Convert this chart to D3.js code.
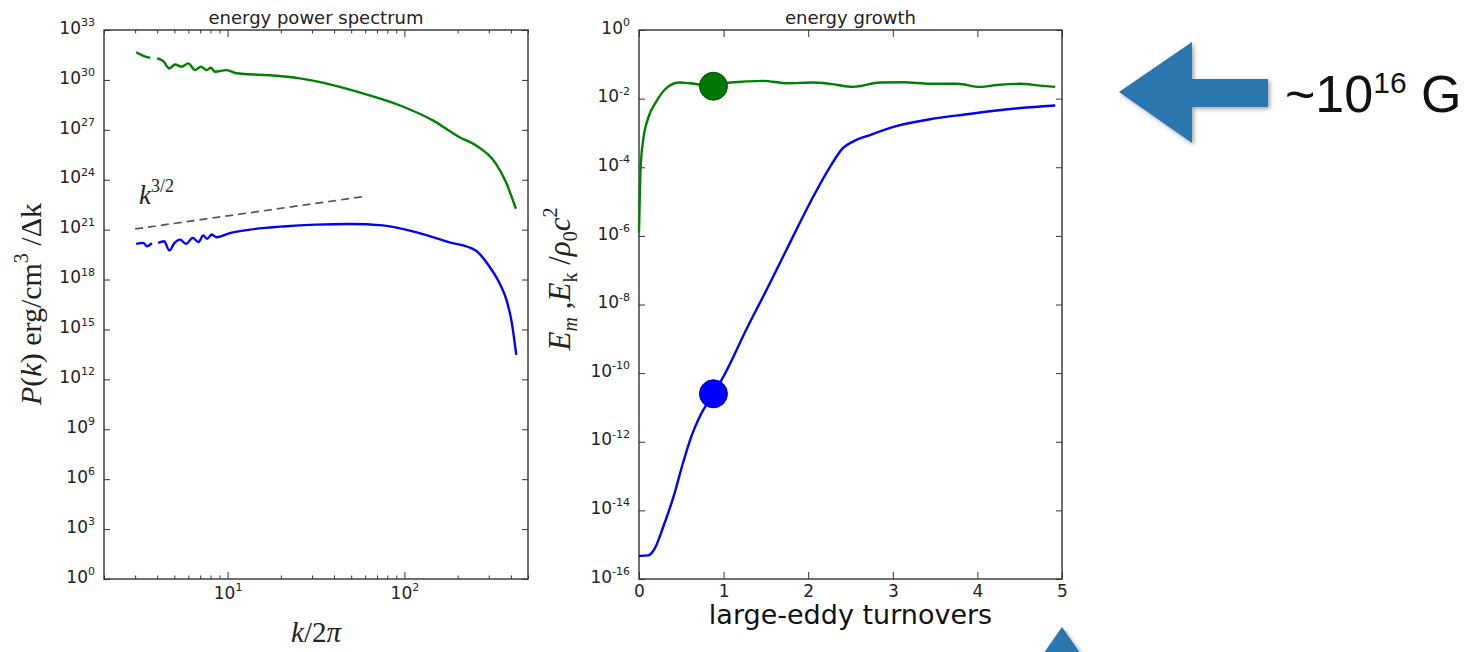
<!DOCTYPE html>
<meta charset="utf-8">
<title>energy spectrum and growth</title>
<style>
body { margin: 0; background: #fff; }
svg { display: block; }
.tick text { font-family: "DejaVu Sans", sans-serif; fill: #222; }
.title { font-family: "DejaVu Sans", sans-serif; font-size: 18px; fill: #222; }
.math { font-family: "Liberation Serif", serif; fill: #222; }
</style>
<body>
<script src="https://d3js.org/d3.v7.min.js"></script>
<script>

// ---- data ----
// left panel: power spectrum vs k/2pi (null = gap in the line)
var specKGreen = [3.04, 3.34, 3.65, 3.82, 4.0, 4.33, 4.69, 5.05, 5.5, 6.0, 6.55, 7.07, 7.6, 8.05, 8.48, 9.87, 11.2, 16.6, 25.6, 39.4, 60.8, 93.7, 144, 204, 253, 329, 375, 427];
var specGreen  = [4.6e31, 2.8e31, 2.1e31, null, 2.0e31, 1.35e31, 4.9e30, 8.5e30, 6.2e30, 9.8e30, 3.9e30, 6.2e30, 3.9e30, 5.4e30, 3.1e30, 3.9e30, 2.5e30, 1.95e30, 1.23e30, 4.9e29, 1.35e29, 3.0e28, 3.8e27, 3.7e26, 1.17e26, 9.3e24, 7.2e23, 1.8e22];
var specKBlue  = [3.04, 3.34, 3.5, 3.73, 3.9, 4.05, 4.37, 4.69, 5.0, 5.38, 5.82, 6.35, 6.85, 7.28, 7.67, 8.12, 8.66, 10.3, 13.4, 20.6, 31.7, 48.9, 75.4, 116, 178, 253, 300, 343, 379, 403, 429];
var specBlue   = [1.4e20, 1.6e20, 1.0e20, 1.55e20, null, 1.6e20, 2.0e20, 5.6e19, 1.55e20, 2.5e20, 1.4e20, 3.2e20, 1.8e20, 4.5e20, 2.8e20, 5.1e20, 3.5e20, 6.2e20, 1.0e21, 1.55e21, 2.0e21, 2.2e21, 1.8e21, 7.1e20, 1.8e20, 5.6e19, 6.9e18, 6.9e17, 5.4e16, 3.4e15, 3.0e13];
// k^(3/2) guide line end points
var guideK = [3, 60];
var guideP = [1.1e21, 1.0e23];

// right panel: energy growth vs large-eddy turnovers
var tGreen = [0, 0.02, 0.05, 0.11, 0.2, 0.33, 0.48, 0.6, 0.75, 0.88, 1.08, 1.47, 1.75, 2.06, 2.26, 2.53, 2.85, 3.13, 3.44, 3.76, 4.03, 4.23, 4.5, 4.74, 4.92];
var eGreen = [1.26e-6, 1.05e-4, 6.3e-4, 2.8e-3, 7.9e-3, 2.1e-2, 2.95e-2, 2.8e-2, 2.5e-2, 2.3e-2, 2.95e-2, 3.3e-2, 2.8e-2, 2.95e-2, 2.7e-2, 2.2e-2, 2.95e-2, 3.0e-2, 2.7e-2, 2.7e-2, 2.2e-2, 2.5e-2, 2.7e-2, 2.4e-2, 2.2e-2];
var tBlue = [0, 0.11, 0.19, 0.29, 0.41, 0.52, 0.62, 0.72, 0.88, 1.0, 1.27, 1.55, 1.82, 2.06, 2.26, 2.41, 2.53, 2.73, 3.05, 3.44, 3.83, 4.23, 4.62, 4.92];
var eBlue = [4.7e-16, 4.9e-16, 8.1e-16, 3.5e-15, 2.6e-14, 2.4e-13, 1.45e-12, 5.5e-12, 2.5e-11, 8.1e-11, 1.9e-9, 4.3e-8, 9.5e-7, 1.4e-5, 1.05e-4, 3.6e-4, 5.6e-4, 8.7e-4, 1.6e-3, 2.5e-3, 3.4e-3, 4.5e-3, 5.6e-3, 6.3e-3];
// highlighted moment
var markT = 0.88;
var markGreen = 2.3e-2, markBlue = 2.5e-11;

var leftYTicks = [1e0, 1e3, 1e6, 1e9, 1e12, 1e15, 1e18, 1e21, 1e24, 1e27, 1e30, 1e33];
var leftXMajor = [10, 100];
var leftXMinor = [2, 3, 4, 5, 6, 7, 8, 9, 20, 30, 40, 50, 60, 70, 80, 90, 200, 300, 400, 500];
var rightYTicks = [1e-16, 1e-14, 1e-12, 1e-10, 1e-8, 1e-6, 1e-4, 1e-2, 1e0];
var rightXTicks = [0, 1, 2, 3, 4, 5];

var width = 1478, height = 652;
var GREEN = "#008000", BLUE = "#0000ff", ARROW = "#2a76ae";

var svg = d3.select("body").append("svg")
    .attr("width", width)
    .attr("height", height);

svg.append("rect").attr("width", width).attr("height", height).attr("fill", "#fff");

// drop shadow for the big arrows
var defs = svg.append("defs");
defs.append("filter").attr("id", "shadow")
    .attr("x", "-20%").attr("y", "-20%").attr("width", "140%").attr("height", "140%")
  .append("feDropShadow")
    .attr("dx", 2).attr("dy", 2).attr("stdDeviation", 2)
    .attr("flood-color", "#000").attr("flood-opacity", 0.35);

// 10^n tick label
function powLabel(sel, exp, big, small) {
  sel.text(null);
  sel.append("tspan").attr("font-size", big).text("10");
  sel.append("tspan").attr("font-size", small).attr("dy", -big * 0.45).text(exp);
}

// ---------------- left panel ----------------
var L = {x0: 104, x1: 528, y0: 30, y1: 579};
var xL = d3.scaleLog().domain([2, 500]).range([L.x0, L.x1]);
var yL = d3.scaleLog().domain([1, 1e33]).range([L.y1, L.y0]);

var gL = svg.append("g");

// ticks (inward, mirrored)
gL.append("g").attr("transform", "translate(0," + L.y1 + ")")
    .call(d3.axisBottom(xL).tickValues(leftXMinor).tickSize(-3.5).tickFormat(""));
gL.append("g").attr("transform", "translate(0," + L.y0 + ")")
    .call(d3.axisTop(xL).tickValues(leftXMinor).tickSize(-3.5).tickFormat(""));
gL.append("g").attr("transform", "translate(0," + L.y1 + ")")
    .call(d3.axisBottom(xL).tickValues(leftXMajor).tickSize(-7).tickPadding(13).tickFormat(d => d))
    .selectAll(".tick text").each(function(d) {
      powLabel(d3.select(this), Math.round(Math.log10(d)), 17, 11);
    });
gL.append("g").attr("transform", "translate(0," + L.y0 + ")")
    .call(d3.axisTop(xL).tickValues(leftXMajor).tickSize(-7).tickFormat(""));
gL.append("g").attr("transform", "translate(" + L.x0 + ",0)")
    .call(d3.axisLeft(yL).tickValues(leftYTicks).tickSize(-6).tickPadding(9).tickFormat(d => d))
    .selectAll(".tick text").each(function(d) {
      powLabel(d3.select(this), Math.round(Math.log10(d)), 17, 11);
    });
gL.append("g").attr("transform", "translate(" + L.x1 + ",0)")
    .call(d3.axisRight(yL).tickValues(leftYTicks).tickSize(-6).tickFormat(""));

gL.selectAll(".domain").remove();
gL.selectAll(".tick line").attr("stroke", "#333").attr("stroke-width", 1);

gL.append("rect")
    .attr("x", L.x0).attr("y", L.y0)
    .attr("width", L.x1 - L.x0).attr("height", L.y1 - L.y0)
    .attr("fill", "none").attr("stroke", "#333").attr("stroke-width", 1.4);

var lineL = d3.line()
    .defined(d => d[1] != null)
    .x(d => xL(d[0])).y(d => yL(d[1]))
    .curve(d3.curveMonotoneX);

gL.append("path")
    .datum(d3.zip(guideK, guideP))
    .attr("d", lineL)
    .attr("fill", "none").attr("stroke", "#555").attr("stroke-width", 1.7)
    .attr("stroke-dasharray", "8,5");

gL.append("path")
    .datum(d3.zip(specKGreen, specGreen))
    .attr("d", lineL)
    .attr("fill", "none").attr("stroke", GREEN).attr("stroke-width", 2.4);

gL.append("path")
    .datum(d3.zip(specKBlue, specBlue))
    .attr("d", lineL)
    .attr("fill", "none").attr("stroke", BLUE).attr("stroke-width", 2.4);

// k^{3/2}
var kl = gL.append("text").attr("class", "math").attr("x", 139).attr("y", 204);
kl.append("tspan").attr("font-size", 27).attr("font-style", "italic").text("k");
kl.append("tspan").attr("font-size", 18).attr("dy", -12).text("3/2");

gL.append("text").attr("class", "title")
    .attr("x", (L.x0 + L.x1) / 2).attr("y", 24)
    .attr("text-anchor", "middle").text("energy power spectrum");

// x label k/2pi
var xlab = gL.append("text").attr("class", "math")
    .attr("x", (L.x0 + L.x1) / 2).attr("y", 642)
    .attr("text-anchor", "middle").attr("font-size", 29);
xlab.append("tspan").attr("font-style", "italic").text("k");
xlab.append("tspan").text("/2");
xlab.append("tspan").attr("font-style", "italic").text("π");

// y label P(k) erg/cm^3 /Δk
var ylab = gL.append("text").attr("class", "math")
    .attr("transform", "translate(41,304) rotate(-90)")
    .attr("text-anchor", "middle").attr("font-size", 30);
ylab.append("tspan").attr("font-style", "italic").text("P");
ylab.append("tspan").text("(");
ylab.append("tspan").attr("font-style", "italic").text("k");
ylab.append("tspan").text(") erg/cm");
ylab.append("tspan").attr("font-size", 20).attr("dy", -13).text("3");
ylab.append("tspan").attr("dy", 13).text(" /Δk");

// ---------------- right panel ----------------
var R = {x0: 639, x1: 1062, y0: 30, y1: 579};
var xR = d3.scaleLinear().domain([0, 5]).range([R.x0, R.x1]);
var yR = d3.scaleLog().domain([1e-16, 1]).range([R.y1, R.y0]);

var gR = svg.append("g");

gR.append("g").attr("transform", "translate(0," + R.y1 + ")")
    .call(d3.axisBottom(xR).tickValues(rightXTicks).tickSize(-7).tickPadding(6).tickFormat(d3.format("d")))
    .selectAll(".tick text").attr("font-size", 17);
gR.append("g").attr("transform", "translate(0," + R.y0 + ")")
    .call(d3.axisTop(xR).tickValues(rightXTicks).tickSize(-7).tickFormat(""));
gR.append("g").attr("transform", "translate(" + R.x0 + ",0)")
    .call(d3.axisLeft(yR).tickValues(rightYTicks).tickSize(-6).tickPadding(9).tickFormat(d => d))
    .selectAll(".tick text").each(function(d) {
      powLabel(d3.select(this), Math.round(Math.log10(d)), 17, 11);
    });
gR.append("g").attr("transform", "translate(" + R.x1 + ",0)")
    .call(d3.axisRight(yR).tickValues(rightYTicks).tickSize(-6).tickFormat(""));

gR.selectAll(".domain").remove();
gR.selectAll(".tick line").attr("stroke", "#333").attr("stroke-width", 1);

gR.append("rect")
    .attr("x", R.x0).attr("y", R.y0)
    .attr("width", R.x1 - R.x0).attr("height", R.y1 - R.y0)
    .attr("fill", "none").attr("stroke", "#333").attr("stroke-width", 1.4);

var lineR = d3.line()
    .x(d => xR(d[0])).y(d => yR(d[1]))
    .curve(d3.curveMonotoneX);

gR.append("path")
    .datum(d3.zip(tGreen, eGreen))
    .attr("d", lineR)
    .attr("fill", "none").attr("stroke", GREEN).attr("stroke-width", 2.4);

gR.append("path")
    .datum(d3.zip(tBlue, eBlue))
    .attr("d", lineR)
    .attr("fill", "none").attr("stroke", BLUE).attr("stroke-width", 2.4);

gR.append("circle")
    .attr("cx", xR(markT)).attr("cy", yR(markGreen)).attr("r", 14)
    .attr("fill", "#007800").attr("stroke", "#005200").attr("stroke-width", 1);
gR.append("circle")
    .attr("cx", xR(markT)).attr("cy", yR(markBlue)).attr("r", 14)
    .attr("fill", BLUE).attr("stroke", "#0000a8").attr("stroke-width", 1);

gR.append("text").attr("class", "title")
    .attr("x", (R.x0 + R.x1) / 2).attr("y", 24)
    .attr("text-anchor", "middle").text("energy growth");

gR.append("text")
    .attr("x", (R.x0 + R.x1) / 2).attr("y", 624)
    .attr("text-anchor", "middle")
    .attr("font-family", "DejaVu Sans, sans-serif").attr("font-size", 27).attr("fill", "#111")
    .text("large-eddy turnovers");

// y label E_m ,E_k /rho_0 c^2
var ylab2 = gR.append("text").attr("class", "math")
    .attr("transform", "translate(570,279) rotate(-90)")
    .attr("text-anchor", "middle").attr("font-size", 31);
ylab2.append("tspan").attr("font-style", "italic").text("E");
ylab2.append("tspan").attr("font-style", "italic").attr("font-size", 20).attr("dy", 7).text("m");
ylab2.append("tspan").attr("dy", -7).text(" ,");
ylab2.append("tspan").attr("font-style", "italic").text("E");
ylab2.append("tspan").attr("font-size", 20).attr("dy", 7).text("k");
ylab2.append("tspan").attr("dy", -7).text(" /");
ylab2.append("tspan").attr("font-style", "italic").text("ρ");
ylab2.append("tspan").attr("font-size", 20).attr("dy", 7).text("0");
ylab2.append("tspan").attr("font-style", "italic").attr("dy", -7).text("c");
ylab2.append("tspan").attr("font-size", 20).attr("dy", -13).text("2");

// ---------------- annotation arrows ----------------
var arrowPts = [[1119, 92], [1192, 42], [1192, 79], [1268, 79], [1268, 107], [1192, 107], [1192, 143]];
svg.append("polygon")
    .attr("points", arrowPts.map(p => p.join(",")).join(" "))
    .attr("fill", ARROW).attr("filter", "url(#shadow)");

var upPts = [[1062, 627], [1011, 700], [1113, 700]];
svg.append("polygon")
    .attr("points", upPts.map(p => p.join(",")).join(" "))
    .attr("fill", ARROW).attr("filter", "url(#shadow)");

var note = svg.append("text")
    .attr("x", 1285).attr("y", 112)
    .attr("font-family", "Liberation Sans, Arial, sans-serif").attr("fill", "#111");
note.append("tspan").attr("font-size", 52).text("~10");
note.append("tspan").attr("font-size", 30).attr("dy", -19).text("16");
note.append("tspan").attr("font-size", 52).attr("dy", 19).text(" G");

</script>
